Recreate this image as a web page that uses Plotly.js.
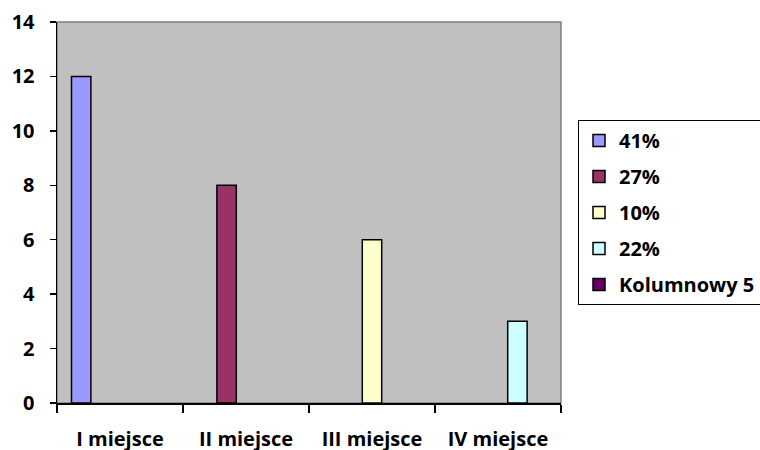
<!DOCTYPE html>
<html><head><meta charset="utf-8">
<script src="https://cdn.plot.ly/plotly-3.0.1.min.js"></script>
<style>html,body{margin:0;padding:0;background:#fff}#c{width:760px;height:450px}</style>
</head><body><div id="c"></div>
<script>
const categories = ["I miejsce", "II miejsce", "III miejsce", "IV miejsce"];
const seriesNames = ["41%", "27%", "10%", "22%", "Kolumnowy 5"];
const s1 = [12, null, null, null];
const s2 = [null, 8, null, null];
const s3 = [null, null, 6, null];
const s4 = [null, null, null, 3];
const s5 = [null, null, null, null];
const seriesValues = [s1, s2, s3, s4, s5];
const colors = ["#9999FF", "#993366", "#FFFFCC", "#CCFFFF", "#660066"];
const yTicks = [0, 2, 4, 6, 8, 10, 12, 14];

const font = {family: "'Open Sans', sans-serif", size: 20, color: "#000", weight: "bold"};
const traces = seriesValues.map((v, i) => ({
  type: "bar", x: categories, y: v, name: seriesNames[i],
  legendgroup: "g" + i,
  marker: {color: colors[i], line: {color: "#000", width: 1.5}},
  hoverinfo: "none"
}));
const layout = {
  width: 760, height: 450,
  margin: {l: 57, r: 199, t: 22, b: 47},
  paper_bgcolor: "#fff", plot_bgcolor: "#C0C0C0",
  barmode: "group", bargap: 0.23, bargroupgap: 0,
  font: font,
  showlegend: true,
  legend: {xref: "container", yref: "container", x: 578 / 760, xanchor: "left", y: 1 - 120 / 450, yanchor: "top",
    bordercolor: "#000", borderwidth: 1, bgcolor: "#fff",
    traceorder: "grouped", tracegroupgap: 7, itemwidth: 30,
    font: font},
  xaxis: {type: "category", tickson: "boundaries", ticks: "outside", ticklen: 8, tickwidth: 1.5,
    tickcolor: "#000", showline: true, linecolor: "#000", linewidth: 1.5, showgrid: false,
    ticklabelstandoff: 17, tickfont: font, fixedrange: true},
  yaxis: {range: [0, 14], tickvals: yTicks, ticktext: yTicks.map(String), ticks: "outside", ticklen: 6,
    tickwidth: 1.5, tickcolor: "#000", showline: true, linecolor: "#000", linewidth: 1.5,
    showgrid: false, zeroline: false, ticklabelstandoff: 11, tickfont: font, fixedrange: true},
  shapes: [{type: "rect", xref: "paper", yref: "paper", x0: 0, x1: 1, y0: 0, y1: 1,
    line: {color: "#808080", width: 1.5}, layer: "below"}]
};
Plotly.newPlot("c", traces, layout, {displayModeBar: false, staticPlot: true});
</script></body></html>
